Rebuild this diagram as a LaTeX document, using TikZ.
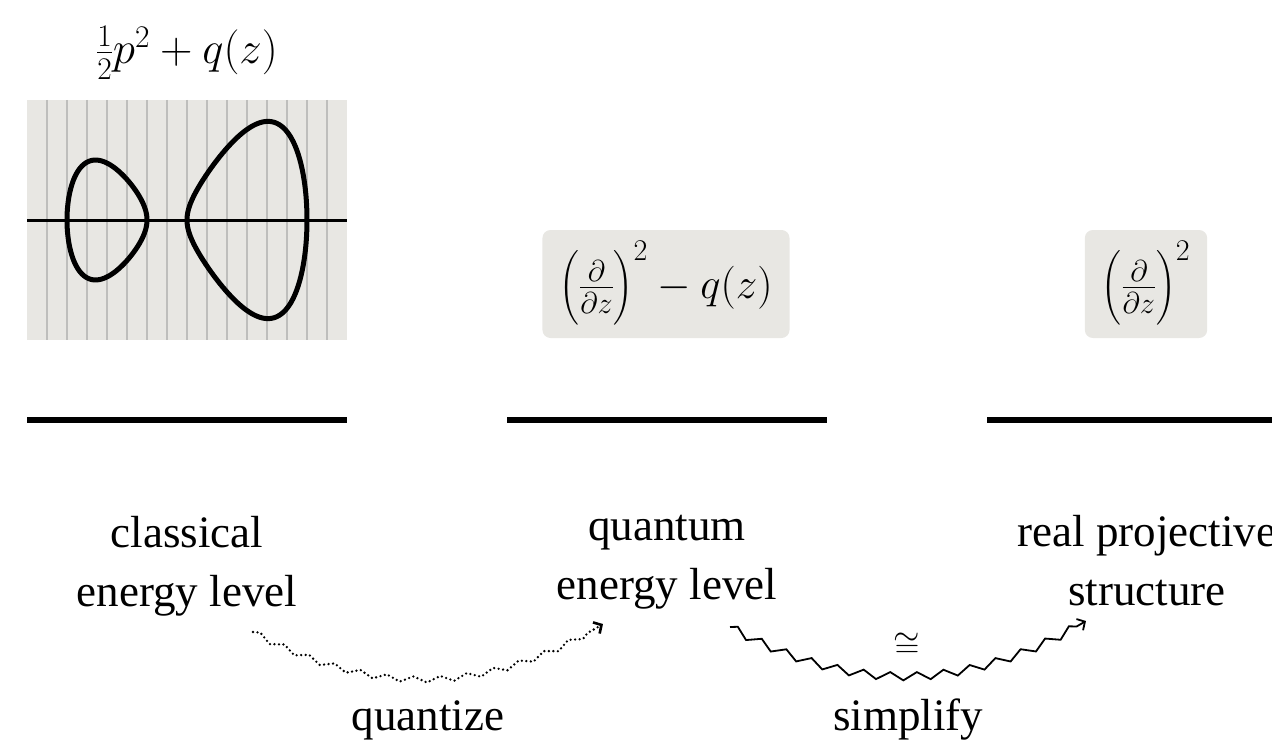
\RequirePackage{fix-cm}
\documentclass[tikz,border=0pt]{standalone}
\usepackage{amsmath}
\usepackage{fontspec}
\setmainfont{Liberation Serif}
\usetikzlibrary{decorations.pathmorphing,arrows.meta}
\definecolor{panel}{RGB}{232,231,227}
\definecolor{gridline}{RGB}{190,190,188}
\begin{document}
\begin{tikzpicture}[x=1pt,y=-1pt,
  lbl/.style={font=\fontsize{45}{59}\selectfont, align=center, inner sep=0pt},
  mth/.style={font=\fontsize{45}{50}\selectfont, inner sep=0pt},
  opbox/.style={fill=panel, rounded corners=8pt, inner xsep=17pt, inner ysep=0pt, minimum height=108pt, font=\fontsize{43}{52}\selectfont},
  eline/.style={line width=6pt},
  curvestyle/.style={line width=5pt, line join=round},
  squig/.style={line width=1.8pt, -{Straight Barb[length=6pt,width=13pt]}, decorate,
    decoration={zigzag, segment length=27pt, amplitude=4pt, post length=9pt}},
  dotsquig/.style={squig, dash pattern=on 0pt off 4.5pt, line cap=round, line width=2.6pt,
    decoration={zigzag, segment length=27pt, amplitude=3pt, post length=9pt}},
]
\useasboundingbox (0,0) rectangle (1272,741);
% phase portrait
\fill[panel] (27,100) rectangle (347,340);
\foreach \i in {1,...,15} \draw[gridline, line width=1.5pt] (27+20*\i,100) -- (27+20*\i,340);
\draw[line width=3pt] (27,220) -- (347,220);
\draw[curvestyle] plot[domain=0:360, samples=181, variable=\t]
  ({10*(10.7-4*cos(\t))}, {220-1.125*4*sin(\t)*sqrt((8+4*cos(\t))*(20+4*cos(\t)))}) -- cycle;
\draw[curvestyle] plot[domain=0:360, samples=181, variable=\t]
  ({10*(24.7-6*cos(\t))}, {220-1.125*6*sin(\t)*sqrt((18-6*cos(\t))*(10-6*cos(\t)))}) -- cycle;
\node[mth, anchor=base] (ham) at (187,64) {$\frac{1}{2}p^2+q(z)$};
% operators
\node[opbox] (qop) at (666,284) {$\Bigl(\frac{\partial}{\partial z}\Bigr)^2-q(z)$};
\node[opbox] (rop) at (1146,284) {$\Bigl(\frac{\partial}{\partial z}\Bigr)^2$};
% levels
\draw[eline] (27,420) -- (347,420);
\draw[eline] (507,420) -- (827,420);
\draw[eline] (987,420) -- (1307,420);
% labels
\node[lbl, anchor=base] (cl) at (187,606) {classical\\energy level};
\node[lbl, anchor=base] (qu) at (667,599) {quantum\\energy level};
\node[lbl, anchor=base] (rp) at (1147,605) {real projective\\structure};
% arrows
\coordinate (qs) at (253,632);
\coordinate (qe) at (603,624);
\draw[dotsquig] (qs) to[bend right=30] (qe);
\node[lbl, anchor=base] (qz) at (428,730) {quantize};
\coordinate (ss) at (730,627);
\coordinate (se) at (1086,621);
\draw[squig] (ss) to[bend right=30] (se);
\node[font=\fontsize{34}{38}\selectfont, inner sep=0pt] (iso) at (907,645) {$\cong$};
\node[lbl, anchor=base] (sp) at (908,730) {simplify};
\end{tikzpicture}
\end{document}
